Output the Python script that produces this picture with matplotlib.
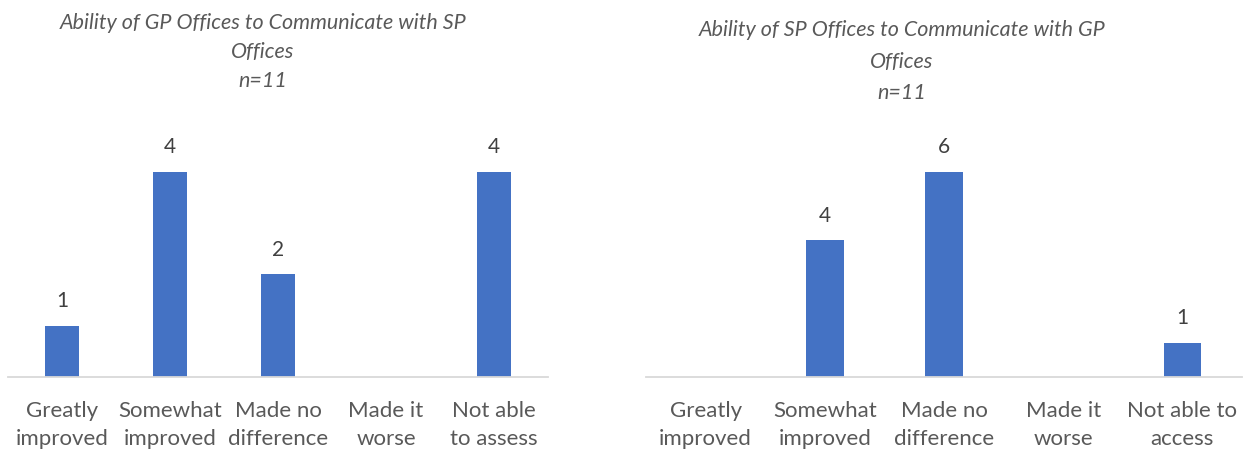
import numpy as np
import matplotlib.pyplot as plt

# Survey responses, one panel per direction of communication
categories = ["Greatly\nimproved", "Somewhat\nimproved", "Made no\ndifference",
              "Made it\nworse", "Not able\nto assess"]
categories_sp = ["Greatly\nimproved", "Somewhat\nimproved", "Made no\ndifference",
                 "Made it\nworse", "Not able to\naccess"]
gp_to_sp = [1, 4, 2, 0, 4]
sp_to_gp = [0, 4, 6, 0, 1]

title_gp = "Ability of GP Offices to Communicate with SP\nOffices\nn=11"
title_sp = "Ability of SP Offices to Communicate with GP\nOffices\nn=11"

bar_color = "#4472C4"
text_color = "#595959"
label_color = "#404040"

plt.rcParams['font.family'] = ['Lato', 'DejaVu Sans']

fig = plt.figure(figsize=(12.5, 4.52), dpi=100)

panels = [
    ([0.0064, 0.1637, 0.432, 0.5044], categories, gp_to_sp),
    ([0.5168, 0.1637, 0.4768, 0.5044], categories_sp, sp_to_gp),
]

for rect, cats, vals in panels:
    ax = fig.add_axes(rect)
    x = np.arange(len(cats))
    ax.bar(x, vals, width=0.315, color=bar_color)
    for xi, v in zip(x, vals):
        if v > 0:
            ax.annotate(str(v), (xi, v), xytext=(0, 18.5), textcoords="offset points",
                        ha="center", va="center", fontsize=15, color=label_color)
    ax.set_xlim(-0.5, len(cats) - 0.5)
    ax.set_ylim(0, max(vals) * 1.112)
    ax.set_xticks(x)
    ax.set_xticklabels(cats, fontsize=16, color=text_color, linespacing=1.5)
    ax.tick_params(axis="x", length=0, pad=16.5)
    ax.set_yticks([])
    for side in ["top", "left", "right"]:
        ax.spines[side].set_visible(False)
    ax.spines["bottom"].set_color("#D9D9D9")
    ax.spines["bottom"].set_linewidth(1.3)

fig.text(263 / 1250, 1 - 13 / 452, title_gp, ha="center", va="top", fontsize=15.5,
         style="italic", color=text_color, linespacing=1.57)
fig.text(902 / 1250, 1 - 20 / 452, title_sp, ha="center", va="top", fontsize=15.5,
         style="italic", color=text_color, linespacing=1.72)

fig.savefig("out.png", dpi=100, facecolor="white")
